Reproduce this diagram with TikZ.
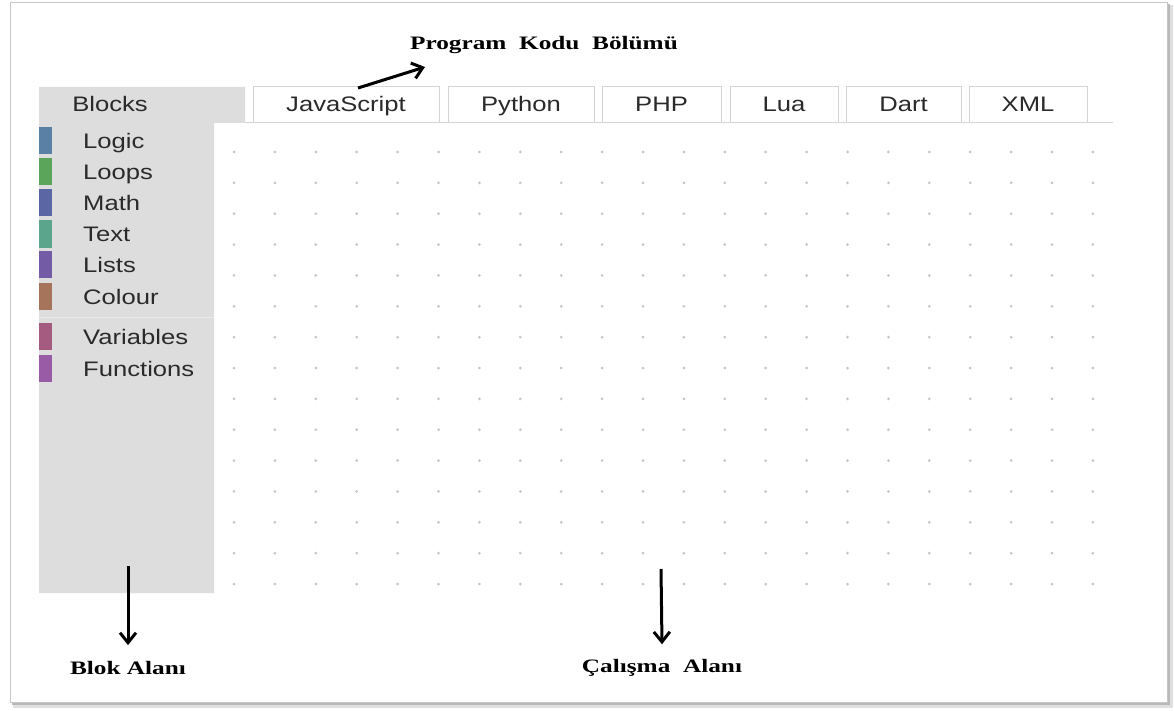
\documentclass[tikz,border=0pt]{standalone}
\usepackage{fontspec}
\setmainfont{Liberation Sans}
\newfontfamily\serifb{Liberation Serif}
\usepackage{graphicx}
\usetikzlibrary{arrows.meta}
\definecolor{panel}{HTML}{DDDDDD}
\definecolor{sepc}{HTML}{E9E9E9}
\definecolor{tabline}{HTML}{D4D4D4}
\definecolor{dotc}{HTML}{C6C6C6}
\definecolor{uitxt}{HTML}{2A2A2A}
\definecolor{cLogic}{HTML}{5B80A5}
\definecolor{cLoops}{HTML}{5BA55B}
\definecolor{cMath}{HTML}{5B67A5}
\definecolor{cText}{HTML}{5BA58C}
\definecolor{cLists}{HTML}{745BA5}
\definecolor{cColour}{HTML}{A5745B}
\definecolor{cVariables}{HTML}{A55B80}
\definecolor{cFunctions}{HTML}{995BA5}
\newcommand{\uitext}[1]{\scalebox{1.22}[1]{#1}}
\newcommand{\annot}[1]{\scalebox{1.33}[1]{#1}}
\begin{document}
\begin{tikzpicture}[x=1pt,y=-1pt,
  ui/.style={text=uitxt, inner sep=0pt, font=\fontsize{21}{25}\selectfont},
  tabbox/.style={ui, draw=tabline, line width=0.9pt, fill=white, minimum height=36pt, text height=17pt, text depth=2pt},
  item/.style={ui, anchor=base west},
  bar/.style={minimum width=13pt, minimum height=27pt, inner sep=0pt, anchor=west},
  note/.style={inner sep=0pt, font=\serifb\bfseries\fontsize{19}{22}\selectfont, text=black},
  pointer/.style={draw=black, line width=3pt, -{Straight Barb[length=10pt,width=16pt,line width=3pt]}}
]
\useasboundingbox (0,0) rectangle (1174,711);
% frame with shadow
\fill[gray!25] (13,5) rectangle (1173,708);
\fill[gray!55] (12,4) rectangle (1170,705);
\draw[gray!45, line width=0.8pt, fill=white] (10,2) rectangle (1167,702);
% workspace dots
\foreach \i in {0,...,21}
  \foreach \j in {0,...,14}
    \fill[dotc] ({234+40.9*\i},{152+30.86*\j}) circle[radius=1.5pt];
% line under tabs
\draw[tabline, line width=0.9pt] (245,122.5) -- (1113,122.5);
% block panel
\fill[panel] (39,87) -- (245,87) -- (245,123) -- (214,123) -- (214,593) -- (39,593) -- cycle;
\draw[sepc, line width=1pt] (39,317) -- (214,317);
\node[ui, text height=17pt, text depth=2pt] (blocks) at (110,104) {\uitext{Blocks}};
% tabs
\node[tabbox, minimum width=186pt] (js)   at (346,104.5)  {\uitext{JavaScript}};
\node[tabbox, minimum width=146pt] (py)   at (521,104.5)  {\uitext{Python}};
\node[tabbox, minimum width=119pt] (php)  at (661.5,104.5){\uitext{PHP}};
\node[tabbox, minimum width=108pt] (lua)  at (784,104.5)  {\uitext{Lua}};
\node[tabbox, minimum width=115pt] (dart) at (903.5,104.5){\uitext{Dart}};
\node[tabbox, minimum width=118pt] (xml)  at (1028,104.5) {\uitext{XML}};
% category list
\foreach \nm/\yy in {Logic/140.5, Loops/172, Math/203, Text/234, Lists/264.5, Colour/296, Variables/336, Functions/368}{
  \node[bar, fill=c\nm] (bar\nm) at (39,\yy) {};
  \node[item] (item\nm) at (83,\yy+8) {\uitext{\nm}};
}
% annotations
\node[note] (prog) at (544,45) {\annot{Program\ \ Kodu\ \ Bölümü}};
\coordinate (progtail) at (358,88);
\coordinate (proghead) at (425,67);
\draw[pointer] (progtail) -- (proghead);
\coordinate (bloktail) at (128,566);
\node[note] (blok) at (128,668) {\annot{Blok Alanı}};
\draw[pointer] (bloktail) -- ([yshift=16pt]blok.north);
\coordinate (caltail) at (661,569);
\node[note] (cal) at (662,668) {\annot{Çalışma\ \ Alanı}};
\draw[pointer] (caltail) -- ([yshift=15pt]cal.north);
\end{tikzpicture}
\end{document}
